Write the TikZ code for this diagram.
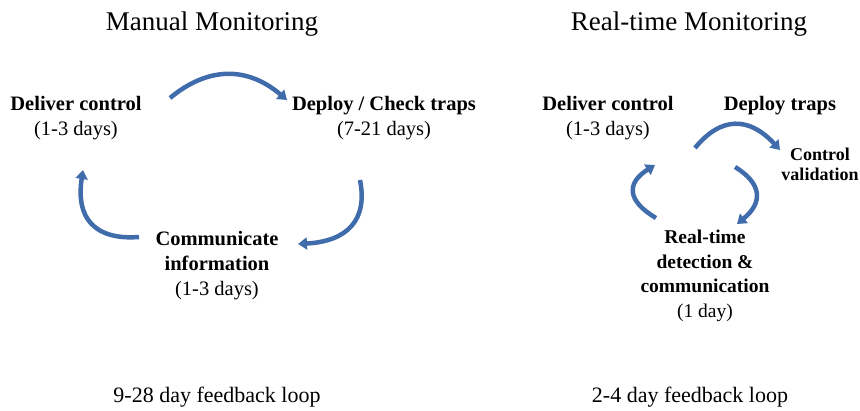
\documentclass[tikz,border=0pt]{standalone}
\usepackage{fontspec}
\setmainfont{Liberation Serif}
\usetikzlibrary{arrows.meta,calc}
\definecolor{arrowblue}{RGB}{64,108,172}
\tikzset{
  title/.style={font=\fontsize{27}{32}\selectfont, anchor=center},
  lbl/.style={font=\fontsize{20.5}{25}\selectfont, align=center, anchor=center, inner sep=0pt},
  small/.style={font=\fontsize{18}{20}\selectfont\bfseries, align=center, anchor=center, inner sep=0pt},
  foot/.style={font=\fontsize{22}{26}\selectfont, anchor=center},
  cyc/.style={draw=arrowblue, line width=4.5pt, -{Triangle[length=9pt,width=12pt]}}
}
\newcommand{\qarc}[3]{\draw[cyc] (#1) .. controls ($(#1)!0.6667!(#2)$) and ($(#3)!0.6667!(#2)$) .. (#3);}
\begin{document}
\begin{tikzpicture}[x=1pt,y=-1pt]
\useasboundingbox (0,0) rectangle (860,411);
% titles
\node[title] (t1) at (212,24) {Manual Monitoring};
\node[title] (t2) at (689,24) {Real-time Monitoring};
% left diagram
\node[lbl] (dc1) at (76,118) {\textbf{Deliver control}\\(1-3 days)};
\node[lbl] (dp1) at (384,118) {\textbf{Deploy / Check traps}\\(7-21 days)};
\node[lbl] (ci1) at (217,266) {\textbf{Communicate}\\\textbf{information}\\(1-3 days)};
\node[foot] (f1) at (217,397) {9-28 day feedback loop};
% right diagram
\node[lbl] (dc2) at (608,118) {\textbf{Deliver control}\\(1-3 days)};
\node[lbl] (dp2) at (780,106) {\textbf{Deploy traps}};
\node[small] (cv2) at (820,164) {Control\\validation};
\node[lbl, font=\fontsize{19.5}{24.6}\selectfont] (rt2) at (705,276) {\textbf{Real-time}\\\textbf{detection \&}\\\textbf{communication}\\(1 day)};
\node[foot] (f2) at (690,397) {2-4 day feedback loop};
% arrow end points (start, quadratic control, end)
\coordinate (a1s) at (170,98);  \coordinate (a1c) at (228,50);   \coordinate (a1e) at (287,100);
\coordinate (a2s) at (360,180); \coordinate (a2c) at (372,240);  \coordinate (a2e) at (298,244);
\coordinate (a3s) at (139,237); \coordinate (a3c) at (72,242);   \coordinate (a3e) at (83,170);
\coordinate (b1s) at (695,148); \coordinate (b1c) at (734,100);  \coordinate (b1e) at (780,150);
\coordinate (b2s) at (735,167); \coordinate (b2c) at (776,192);  \coordinate (b2e) at (737,224);
\coordinate (b3s) at (656,218); \coordinate (b3c) at (612,192);  \coordinate (b3e) at (655,165);
\qarc{a1s}{a1c}{a1e}
\qarc{a2s}{a2c}{a2e}
\qarc{a3s}{a3c}{a3e}
\qarc{b1s}{b1c}{b1e}
\qarc{b2s}{b2c}{b2e}
\qarc{b3s}{b3c}{b3e}
\end{tikzpicture}
\end{document}
